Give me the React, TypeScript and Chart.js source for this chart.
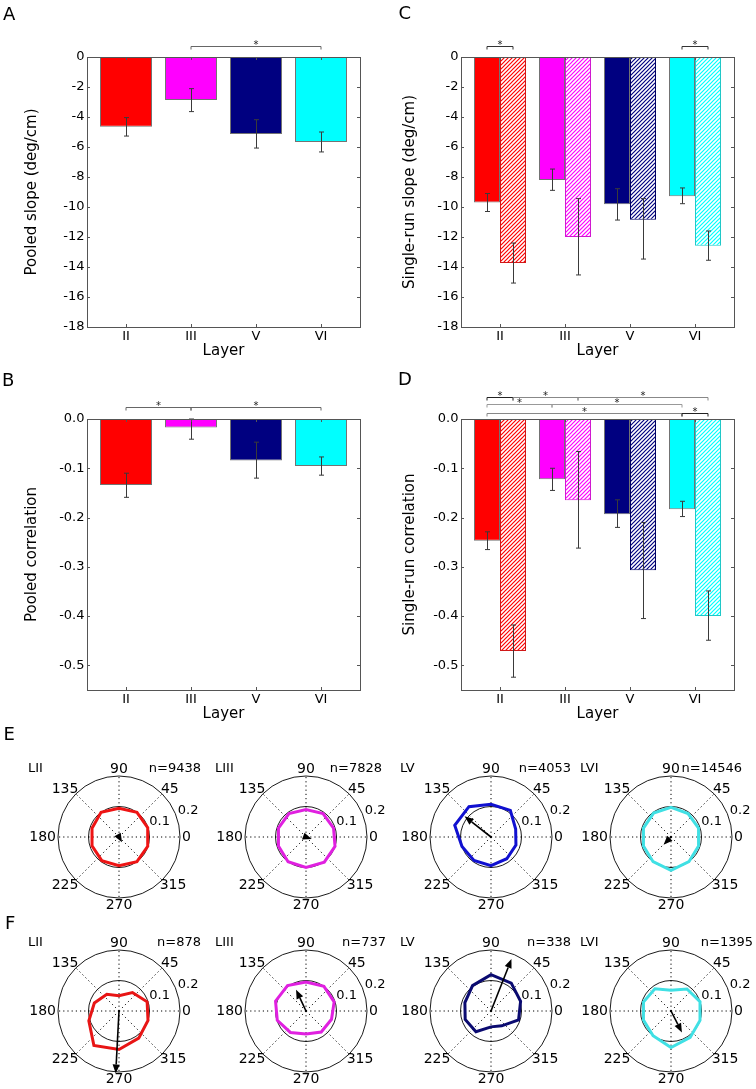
import React, { useEffect, useRef } from 'react';
import { Chart, registerables } from 'chart.js';

Chart.register(...registerables);

const FONT = "'DejaVu Sans', 'Liberation Sans', sans-serif";

// ---------------- data ----------------
const layers = ['II', 'III', 'V', 'VI'];
const layerColors = ['#FF0000', '#FF00FF', '#000080', '#00FFFF'];
const hatchEdgeColors = ['#D01818', '#D018D0', '#000060', '#20C8C8'];

// A: pooled slope
const pooledSlope = [-4.65, -2.86, -5.13, -5.67];
const pooledSlopeErrHi = [-4.04, -2.11, -4.18, -5.0];
const pooledSlopeErrLo = [-5.27, -3.64, -6.07, -6.33];

// B: pooled correlation
const pooledCorr = [-0.134, -0.017, -0.084, -0.0955];
const pooledCorrErrHi = [-0.11, 0.0, -0.047, -0.077];
const pooledCorrErrLo = [-0.159, -0.041, -0.12, -0.114];

// C: single-run slope (solid / hatched)
const singleSlopeSolid = [-9.7, -8.2, -9.82, -9.29];
const singleSlopeSolidErrHi = [-9.1, -7.47, -8.78, -8.73];
const singleSlopeSolidErrLo = [-10.3, -8.89, -10.87, -9.78];
const singleSlopeHatched = [-13.73, -12.0, -10.85, -12.58];
const singleSlopeHatchedErrHi = [-12.4, -9.44, -9.44, -11.6];
const singleSlopeHatchedErrLo = [-15.07, -14.53, -13.47, -13.55];

// D: single-run correlation (solid / hatched)
const singleCorrSolid = [-0.247, -0.1225, -0.1935, -0.183];
const singleCorrSolidErrHi = [-0.229, -0.1, -0.164, -0.167];
const singleCorrSolidErrLo = [-0.265, -0.145, -0.22, -0.198];
const singleCorrHatched = [-0.471, -0.165, -0.307, -0.4];
const singleCorrHatchedErrHi = [-0.418, -0.066, -0.21, -0.349];
const singleCorrHatchedErrLo = [-0.524, -0.262, -0.405, -0.449];

const slopeTicks = [0, -2, -4, -6, -8, -10, -12, -14, -16, -18];
const corrTicks = [0, -0.1, -0.2, -0.3, -0.4, -0.5];

// significance brackets: [category, dataset] pairs
const sigA = [{ a: [1, 0], b: [3, 0], row: 0, color: '#666' }];
const sigB = [
  { a: [0, 0], b: [1, 0], row: 0, color: '#666' },
  { a: [1, 0], b: [3, 0], row: 0, color: '#666' },
];
const sigC = [
  { a: [0, 0], b: [0, 1], row: 0, color: '#333' },
  { a: [3, 0], b: [3, 1], row: 0, color: '#333' },
];
const sigD = [
  { a: [0, 0], b: [0, 1], row: 0, color: '#222' },
  { a: [0, 1], b: [1, 1], row: 0, color: '#888' },
  { a: [1, 1], b: [3, 1], row: 0, color: '#888' },
  { a: [0, 0], b: [1, 0], row: 1, color: '#999' },
  { a: [1, 0], b: [3, 0], row: 1, color: '#999' },
  { a: [0, 0], b: [3, 0], row: 2, color: '#888' },
  { a: [3, 0], b: [3, 1], row: 2, color: '#222' },
];

// polar histograms: 10 direction bins (degrees)
const binAngles = [18, 54, 90, 126, 162, 198, 234, 270, 306, 342];
const spokeAngles = [0, 45, 90, 135, 180, 225, 270, 315];
const polarNames = ['LII', 'LIII', 'LV', 'LVI'];

const allRunsII = [0.099, 0.1, 0.094, 0.1, 0.093, 0.093, 0.096, 0.094, 0.1, 0.099];
const allRunsIII = [0.095, 0.095, 0.09, 0.095, 0.095, 0.095, 0.1, 0.1, 0.102, 0.1];
const allRunsV = [0.085, 0.108, 0.107, 0.123, 0.125, 0.1, 0.095, 0.094, 0.088, 0.086];
const allRunsVI = [0.095, 0.095, 0.097, 0.097, 0.095, 0.095, 0.1, 0.109, 0.1, 0.095];
const allRunsN = ['n=9438', 'n=7828', 'n=4053', 'n=14546'];
const allRunsMeanAngle = [300, 340, 142, 226];
const allRunsMeanLength = [0.02, 0.02, 0.11, 0.035];

const singleRunsII = [0.097, 0.075, 0.05, 0.068, 0.085, 0.104, 0.14, 0.126, 0.11, 0.1];
const singleRunsIII = [0.097, 0.1, 0.095, 0.103, 0.105, 0.099, 0.087, 0.075, 0.085, 0.088];
const singleRunsV = [0.102, 0.113, 0.119, 0.103, 0.09, 0.089, 0.084, 0.052, 0.06, 0.095];
const singleRunsVI = [0.1, 0.089, 0.068, 0.09, 0.095, 0.095, 0.1, 0.12, 0.107, 0.1];
const singleRunsN = ['n=878', 'n=737', 'n=338', 'n=1395'];
const singleRunsMeanAngle = [267, 115, 68.5, 297];
const singleRunsMeanLength = [0.205, 0.077, 0.183, 0.079];

// ---------------- layout / style ----------------
const allRunsColors = ['#EE1414', '#E020E0', '#1010D0', '#40E0E4'];
const singleRunsColors = ['#E81515', '#E020E0', '#0A0A70', '#40E0E4'];
const polarCentersX = [119, 306, 491, 671];
const polarRowY = [837, 1011];
const nRightE = [82, 76, 80, 71];
const nRightF = [82, 80, 80, 82];

function hatchPattern(ctx: CanvasRenderingContext2D, color: string) {
  const c = document.createElement('canvas');
  c.width = 4;
  c.height = 4;
  const g = c.getContext('2d')!;
  g.fillStyle = '#ffffff';
  g.fillRect(0, 0, 4, 4);
  g.strokeStyle = color;
  g.lineWidth = 1.2;
  g.beginPath();
  g.moveTo(-1, 5); g.lineTo(5, -1);
  g.moveTo(-1, 1); g.lineTo(1, -1);
  g.moveTo(3, 5); g.lineTo(5, 3);
  g.stroke();
  return ctx.createPattern(c, 'repeat');
}

const boxPlugin = {
  id: 'boxTicks',
  afterDraw(chart: any) {
    const { ctx, chartArea: a } = chart;
    const xs = chart.scales.x, ys = chart.scales.y;
    ctx.save();
    ctx.strokeStyle = '#555';
    ctx.lineWidth = 1;
    ctx.beginPath();
    ys.ticks.forEach((t: any) => {
      const y = Math.round(ys.getPixelForValue(t.value)) + 0.5;
      ctx.moveTo(a.left, y); ctx.lineTo(a.left + 3, y);
      ctx.moveTo(a.right, y); ctx.lineTo(a.right - 3, y);
    });
    xs.ticks.forEach((t: any) => {
      const x = Math.round(xs.getPixelForValue(t.value)) + 0.5;
      ctx.moveTo(x, a.top); ctx.lineTo(x, a.top + 3);
      ctx.moveTo(x, a.bottom); ctx.lineTo(x, a.bottom - 3);
    });
    ctx.stroke();
    ctx.strokeRect(Math.round(a.left) + 0.5, Math.round(a.top) + 0.5, Math.round(a.right - a.left), Math.round(a.bottom - a.top));
    ctx.restore();
  },
};

const errorBarPlugin = {
  id: 'errbars',
  afterDatasetsDraw(chart: any) {
    const ctx = chart.ctx;
    const ys = chart.scales.y;
    chart.data.datasets.forEach((ds: any, di: number) => {
      const meta = chart.getDatasetMeta(di);
      meta.data.forEach((el: any, i: number) => {
        const x = Math.round(el.x) + 0.5;
        const y1 = ys.getPixelForValue(ds.errHi[i]);
        const y2 = ys.getPixelForValue(ds.errLo[i]);
        ctx.save();
        ctx.strokeStyle = '#3a3a3a';
        ctx.lineWidth = 1;
        ctx.beginPath();
        ctx.moveTo(x, y1); ctx.lineTo(x, y2);
        ctx.moveTo(x - 2.5, y1); ctx.lineTo(x + 2.5, y1);
        ctx.moveTo(x - 2.5, y2); ctx.lineTo(x + 2.5, y2);
        ctx.stroke();
        ctx.restore();
      });
    });
  },
};

const sigPlugin = {
  id: 'sig',
  afterDraw(chart: any, _args: any, opts: any) {
    const ctx = chart.ctx;
    const top = chart.chartArea.top;
    const items = opts.items || [];
    const rows = opts.rows || [];
    items.forEach((it: any) => {
      const xa = chart.getDatasetMeta(it.a[1]).data[it.a[0]].x;
      const xb = chart.getDatasetMeta(it.b[1]).data[it.b[0]].x;
      const y = Math.round(top - rows[it.row]) + 0.5;
      ctx.save();
      ctx.strokeStyle = it.color;
      ctx.lineWidth = 1;
      ctx.beginPath();
      ctx.moveTo(xa, y + 3); ctx.lineTo(xa, y); ctx.lineTo(xb, y); ctx.lineTo(xb, y + 3);
      ctx.stroke();
      ctx.fillStyle = '#222';
      ctx.font = `10px ${FONT}`;
      ctx.textAlign = 'center';
      ctx.textBaseline = 'alphabetic';
      ctx.fillText('*', (xa + xb) / 2, y + 1.5);
      ctx.restore();
    });
  },
};

type DS = { values: number[]; errHi: number[]; errLo: number[]; hatched?: boolean };

function barConfig(o: {
  datasets: DS[];
  yMin: number;
  yTicks: number[];
  yFmt: (v: number) => string;
  yTitle: string;
  yAxisWidth: number;
  padding: any;
  sig: any[];
  sigRows: number[];
}) {
  return {
    type: 'bar',
    data: {
      datasets: o.datasets.map((ds) => ({
        data: ds.values.map((v, i) => ({ x: i + 1, y: v })),
        backgroundColor: ds.hatched
          ? (c: any) => hatchPattern(c.chart.ctx, layerColors[c.dataIndex])
          : layerColors,
        borderColor: ds.hatched ? hatchEdgeColors : 'rgba(0,0,0,0.55)',
        borderWidth: 1,
        borderSkipped: false,
        errHi: ds.errHi,
        errLo: ds.errLo,
      })),
    },
    options: {
      responsive: false,
      animation: false,
      events: [],
      layout: { padding: o.padding },
      datasets: { bar: { categoryPercentage: 0.8, barPercentage: 1.0 } },
      plugins: {
        legend: { display: false },
        tooltip: { enabled: false },
        sig: { items: o.sig, rows: o.sigRows },
      },
      scales: {
        x: {
          type: 'linear',
          min: 0.4,
          max: 4.6,
          offset: false,
          grid: { display: false, drawTicks: false },
          border: { display: false },
          afterBuildTicks: (ax: any) => {
            ax.ticks = layers.map((_, i) => ({ value: i + 1 }));
          },
          afterFit: (ax: any) => {
            ax.height = 33;
          },
          ticks: {
            autoSkip: false,
            maxRotation: 0,
            padding: 2,
            color: '#000',
            font: { size: 13, family: FONT },
            callback: (v: any) => layers[Math.round(v) - 1] ?? '',
          },
          title: {
            display: true,
            text: 'Layer',
            color: '#000',
            font: { size: 15, family: FONT },
            padding: { top: 0, bottom: 0 },
          },
        },
        y: {
          type: 'linear',
          min: o.yMin,
          max: 0,
          grid: { display: false, drawTicks: false },
          border: { display: false },
          afterBuildTicks: (ax: any) => {
            ax.ticks = o.yTicks.map((v) => ({ value: v }));
          },
          afterFit: (ax: any) => {
            ax.width = o.yAxisWidth;
          },
          ticks: {
            padding: 2.5,
            color: '#000',
            font: { size: 13, family: FONT },
            callback: (v: any) => o.yFmt(v),
          },
          title: {
            display: true,
            text: o.yTitle,
            color: '#000',
            font: { size: 15, family: FONT },
            padding: { top: 22.7, bottom: 0 },
          },
        },
      },
    },
    plugins: [errorBarPlugin, boxPlugin, sigPlugin],
  };
}

const polarPlugin = {
  id: 'polarDeco',
  beforeDatasetsDraw(chart: any, _a: any, o: any) {
    const s = chart.scales.r;
    const ctx = chart.ctx;
    const cx = s.xCenter, cy = s.yCenter;
    const R = s.getDistanceFromCenterForValue(0.2);
    ctx.save();
    ctx.strokeStyle = '#000';
    ctx.lineWidth = 1;
    ctx.setLineDash([1.2, 3]);
    ctx.beginPath();
    spokeAngles.forEach((a) => {
      const t = (a * Math.PI) / 180;
      ctx.moveTo(cx, cy);
      ctx.lineTo(cx + R * Math.cos(t), cy - R * Math.sin(t));
    });
    ctx.stroke();
    ctx.setLineDash([]);
    ctx.fillStyle = '#000';
    ctx.textAlign = 'center';
    ctx.textBaseline = 'middle';
    ctx.font = `14px ${FONT}`;
    spokeAngles.forEach((a) => {
      const t = (a * Math.PI) / 180;
      const txt = String(a);
      const w = ctx.measureText(txt).width;
      const c = Math.cos(t), sn = Math.sin(t);
      const px = cx + c * (R + 2) + (c * w) / 2;
      const py = cy - sn * (R + 2) - sn * 5;
      ctx.fillText(txt, px, py);
    });
    ctx.font = `13px ${FONT}`;
    [0.1, 0.2].forEach((v) => {
      const d = s.getDistanceFromCenterForValue(v) + 13;
      const t = (21 * Math.PI) / 180;
      ctx.fillText(v.toFixed(1), cx + d * Math.cos(t), cy - d * Math.sin(t));
    });
    ctx.textAlign = 'left';
    ctx.fillText(o.name, cx - 91, cy - 68.5);
    ctx.textAlign = 'right';
    ctx.fillText(o.n, cx + o.nRight, cy - 68.5);
    ctx.restore();
  },
  afterDatasetsDraw(chart: any, _a: any, o: any) {
    const s = chart.scales.r;
    const ctx = chart.ctx;
    const cx = s.xCenter, cy = s.yCenter;
    const L = s.getDistanceFromCenterForValue(o.meanLength);
    const t = (o.meanAngle * Math.PI) / 180;
    const dx = Math.cos(t), dy = -Math.sin(t);
    const tipX = cx + dx * L, tipY = cy + dy * L;
    const head = 9, hw = 3.6;
    const bx = tipX - dx * head, by = tipY - dy * head;
    ctx.save();
    ctx.strokeStyle = '#000';
    ctx.fillStyle = '#000';
    ctx.lineWidth = 1.6;
    if (L > head) {
      ctx.beginPath();
      ctx.moveTo(cx, cy);
      ctx.lineTo(bx, by);
      ctx.stroke();
    }
    ctx.beginPath();
    ctx.moveTo(tipX, tipY);
    ctx.lineTo(bx - dy * hw, by + dx * hw);
    ctx.lineTo(bx + dy * hw, by - dx * hw);
    ctx.closePath();
    ctx.fill();
    ctx.restore();
  },
};

function polarConfig(p: { r: number[]; color: string; name: string; n: string; nRight: number; meanAngle: number; meanLength: number }) {
  // chart.js radar goes clockwise; order bins so index 0 = 18deg, then 342, 306, ...
  const order = binAngles.map((_, i) => (10 - i) % 10);
  return {
    type: 'radar',
    data: {
      labels: order.map((k) => String(binAngles[k])),
      datasets: [
        {
          data: order.map((k) => p.r[k]),
          borderColor: p.color,
          borderWidth: 3,
          backgroundColor: 'rgba(0,0,0,0)',
          fill: false,
          pointRadius: 0,
          pointHoverRadius: 0,
          tension: 0,
        },
      ],
    },
    options: {
      responsive: false,
      animation: false,
      events: [],
      layout: { padding: { left: 34, right: 34, top: 19, bottom: 19 } },
      plugins: {
        legend: { display: false },
        tooltip: { enabled: false },
        polarDeco: { name: p.name, n: p.n, nRight: p.nRight, meanAngle: p.meanAngle, meanLength: p.meanLength },
      },
      scales: {
        r: {
          min: 0,
          max: 0.2,
          startAngle: 72,
          ticks: { display: false, stepSize: 0.1 },
          grid: { circular: true, color: '#000', lineWidth: 0.9 },
          angleLines: { display: false },
          pointLabels: { display: false },
        },
      },
    },
    plugins: [polarPlugin],
  };
}

function ChartBox({ left, top, width, height, make }: { left: number; top: number; width: number; height: number; make: () => any }) {
  const ref = useRef<HTMLCanvasElement>(null);
  useEffect(() => {
    const chart = new Chart(ref.current as HTMLCanvasElement, make());
    return () => chart.destroy();
  }, []);
  return (
    <div style={{ position: 'absolute', left, top, width, height }}>
      <canvas ref={ref} width={width} height={height} style={{ width, height, display: 'block' }} />
    </div>
  );
}

const fmtInt = (v: number) => String(Math.round(v));
const fmt1 = (v: number) => (Math.abs(v) < 1e-9 ? '0.0' : v.toFixed(1));

function Letter({ ch, left, top }: { ch: string; left: number; top: number }) {
  return (
    <div style={{ position: 'absolute', left, top, fontSize: 18, lineHeight: '18px', fontFamily: FONT, color: '#000' }}>{ch}</div>
  );
}

export default function App() {
  const allRuns = [allRunsII, allRunsIII, allRunsV, allRunsVI];
  const singleRuns = [singleRunsII, singleRunsIII, singleRunsV, singleRunsVI];
  return (
    <div style={{ position: 'absolute', left: 0, top: 0, width: 756, height: 1089, overflow: 'hidden', background: '#fff' }}>
      <ChartBox
        left={0} top={0} width={378} height={365}
        make={() =>
          barConfig({
            datasets: [{ values: pooledSlope, errHi: pooledSlopeErrHi, errLo: pooledSlopeErrLo }],
            yMin: -18, yTicks: slopeTicks, yFmt: fmtInt, yTitle: 'Pooled slope (deg/cm)',
            yAxisWidth: 87, padding: { left: 0, right: 18, top: 57, bottom: 5 },
            sig: sigA, sigRows: [10.6],
          })
        }
      />
      <ChartBox
        left={378} top={0} width={378} height={365}
        make={() =>
          barConfig({
            datasets: [
              { values: singleSlopeSolid, errHi: singleSlopeSolidErrHi, errLo: singleSlopeSolidErrLo },
              { values: singleSlopeHatched, errHi: singleSlopeHatchedErrHi, errLo: singleSlopeHatchedErrLo, hatched: true },
            ],
            yMin: -18, yTicks: slopeTicks, yFmt: fmtInt, yTitle: 'Single-run slope (deg/cm)',
            yAxisWidth: 83, padding: { left: 0, right: 22, top: 57, bottom: 5 },
            sig: sigC, sigRows: [11],
          })
        }
      />
      <ChartBox
        left={0} top={370} width={378} height={365}
        make={() =>
          barConfig({
            datasets: [{ values: pooledCorr, errHi: pooledCorrErrHi, errLo: pooledCorrErrLo }],
            yMin: -0.55, yTicks: corrTicks, yFmt: fmt1, yTitle: 'Pooled correlation',
            yAxisWidth: 87, padding: { left: 0, right: 18, top: 49, bottom: 12 },
            sig: sigB, sigRows: [11.6],
          })
        }
      />
      <ChartBox
        left={378} top={370} width={378} height={365}
        make={() =>
          barConfig({
            datasets: [
              { values: singleCorrSolid, errHi: singleCorrSolidErrHi, errLo: singleCorrSolidErrLo },
              { values: singleCorrHatched, errHi: singleCorrHatchedErrHi, errLo: singleCorrHatchedErrLo, hatched: true },
            ],
            yMin: -0.55, yTicks: corrTicks, yFmt: fmt1, yTitle: 'Single-run correlation',
            yAxisWidth: 83, padding: { left: 0, right: 22, top: 49, bottom: 12 },
            sig: sigD, sigRows: [21.7, 14.7, 6.3],
          })
        }
      />
      {polarCentersX.map((cx, i) => (
        <ChartBox
          key={'e' + i}
          left={cx - 95} top={polarRowY[0] - 80} width={190} height={160}
          make={() =>
            polarConfig({
              r: allRuns[i], color: allRunsColors[i], name: polarNames[i], n: allRunsN[i],
              nRight: nRightE[i], meanAngle: allRunsMeanAngle[i], meanLength: allRunsMeanLength[i],
            })
          }
        />
      ))}
      {polarCentersX.map((cx, i) => (
        <ChartBox
          key={'f' + i}
          left={cx - 95} top={polarRowY[1] - 80} width={190} height={160}
          make={() =>
            polarConfig({
              r: singleRuns[i], color: singleRunsColors[i], name: polarNames[i], n: singleRunsN[i],
              nRight: nRightF[i], meanAngle: singleRunsMeanAngle[i], meanLength: singleRunsMeanLength[i],
            })
          }
        />
      ))}
      <Letter ch="A" left={3} top={4.7} />
      <Letter ch="B" left={2} top={370.7} />
      <Letter ch="C" left={398.5} top={4.3} />
      <Letter ch="D" left={398} top={370.3} />
      <Letter ch="E" left={3.5} top={724.9} />
      <Letter ch="F" left={5} top={914.3} />
    </div>
  );
}
